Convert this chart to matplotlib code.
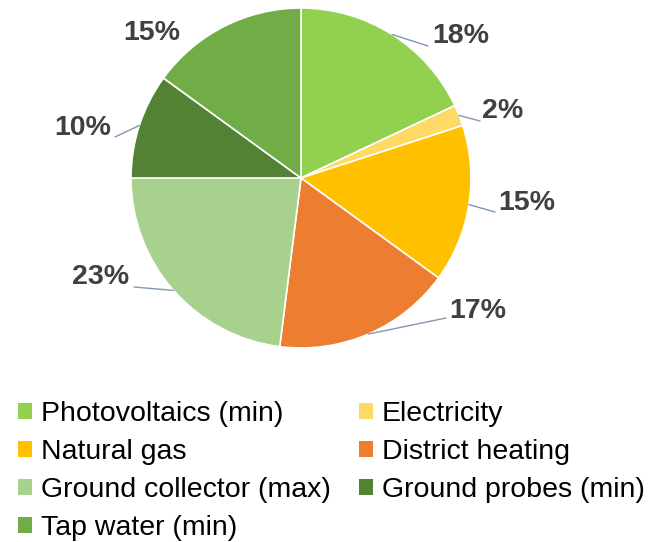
import matplotlib
matplotlib.use("Agg")
import matplotlib.pyplot as plt
from matplotlib.patches import Patch
import numpy as np

# Share of each heat source (percent)
categories = ["Photovoltaics (min)", "Electricity", "Natural gas", "District heating",
              "Ground collector (max)", "Ground probes (min)", "Tap water (min)"]
shares = [18, 2, 15, 17, 23, 10, 15]
colors = ["#92D050", "#FFD966", "#FFC000", "#ED7D31", "#A9D18E", "#548235", "#70AD47"]

W, H = 648, 542
fig = plt.figure(figsize=(W / 100, H / 100), dpi=100)
ax = fig.add_axes([0, 0, 1, 1])

cx, cy, r = 301, H - 178, 170
wedges, _ = ax.pie(shares, colors=colors, startangle=90, counterclock=False,
                   center=(cx, cy), radius=r, frame=True,
                   wedgeprops=dict(edgecolor="white", linewidth=1.2))
ax.set_xlim(0, W)
ax.set_ylim(0, H)
ax.set_aspect("equal")
ax.axis("off")

# label centre (x, y from top) and leader end point for each slice
label_pos = [(461, 36), (503, 111), (527, 203), (478, 311), (101, 277), (83, 128), (152, 33)]
leader_end = [(428, 46), (480, 121), (495, 212), (446, 318), (134, 287), (115, 137), None]

for w, val, (lx, ly), le in zip(wedges, shares, label_pos, leader_end):
    mid = np.deg2rad((w.theta1 + w.theta2) / 2)
    ex, ey = cx + r * np.cos(mid), cy + r * np.sin(mid)
    ax.text(lx, H - ly, f"{val}%", ha="center", va="center", fontsize=20.5,
            fontweight="bold", color="#404040", family="Liberation Sans")
    if le is not None:
        ax.plot([ex, le[0]], [ey, H - le[1]], color="#8497B0", lw=1.0,
                solid_capstyle="round")

# Legend filled row by row in two columns
order = [0, 2, 4, 6, 1, 3, 5]
handles = [Patch(facecolor=colors[i], edgecolor="none") for i in order]
labels = [categories[i] for i in order]
fig.legend(handles, labels, ncol=2, loc="upper left",
           bbox_to_anchor=(18 / W, 1 - 401 / H), frameon=False,
           prop=dict(family="Liberation Sans", size=20.5),
           handlelength=0.5, handleheight=0.5, handletextpad=0.3,
           columnspacing=1.0, labelspacing=0.42, borderpad=0, borderaxespad=0)

fig.savefig("out.png", dpi=100, facecolor="white")
